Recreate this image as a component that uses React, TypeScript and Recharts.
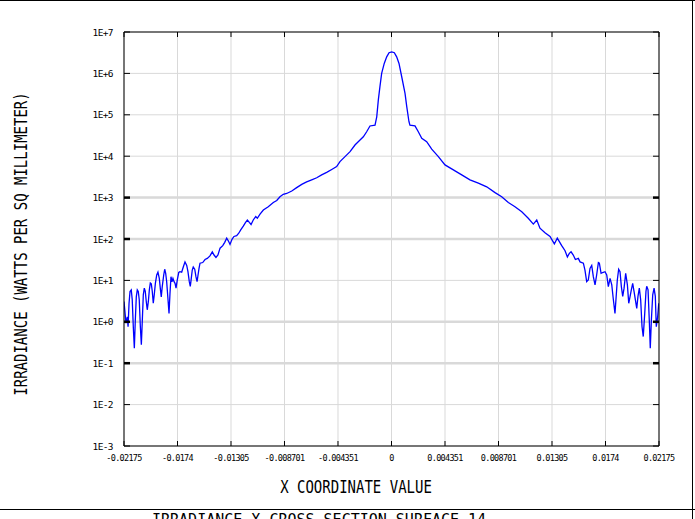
import { CartesianGrid, Line, LineChart, ReferenceLine, XAxis, YAxis } from "recharts";

// x position (data units) of each sample along the cross section
const xCoords = [
  -0.02175, -0.02159, -0.02148, -0.02142, -0.02134, -0.02126, -0.02116, -0.02108, -0.02099, -0.02091,
  -0.02083, -0.02075, -0.02067, -0.02059, -0.02051, -0.02042, -0.02034, -0.02026, -0.02018, -0.0201,
  -0.02002, -0.01994, -0.01986, -0.01977, -0.01969, -0.01961, -0.01953, -0.01945, -0.01937, -0.01929,
  -0.0192, -0.01909, -0.01899, -0.01888, -0.0188, -0.01872, -0.01864, -0.01852, -0.01844, -0.01836,
  -0.01828, -0.01817, -0.01809, -0.01801, -0.01793, -0.01785, -0.01777, -0.01768, -0.0176, -0.01752,
  -0.01742, -0.0173, -0.0172, -0.01706, -0.01693, -0.01679, -0.01665, -0.01655, -0.01644, -0.01636,
  -0.01628, -0.0162, -0.01612, -0.016, -0.0159, -0.01581, -0.01573, -0.01565, -0.01557, -0.01535,
  -0.01516, -0.01498, -0.01476, -0.01457, -0.01443, -0.01427, -0.01411, -0.01394, -0.01372, -0.01356,
  -0.0134, -0.01324, -0.01313, -0.01297, -0.01281, -0.01259, -0.01242, -0.01226, -0.01205, -0.01189,
  -0.01172, -0.01156, -0.01142, -0.01124, -0.01104, -0.01091, -0.01069, -0.01042, -0.01002, -0.00961,
  -0.00933, -0.00907, -0.0088, -0.00852, -0.00811, -0.00771, -0.0073, -0.0069, -0.00649, -0.00608,
  -0.00568, -0.00527, -0.00486, -0.00446, -0.00419, -0.00378, -0.00337, -0.00297, -0.00256, -0.00229,
  -0.00202, -0.00175, -0.00134, -0.0012, -0.00107, -0.00094, -0.0008, -0.00059, -0.00039, -0.0002,
  0.00002, 0.00023, 0.00042, 0.00061, 0.00083, 0.0011, 0.00124, 0.00142, 0.0015, 0.00191,
  0.00218, 0.00246, 0.00286, 0.00327, 0.00381, 0.00435, 0.00503, 0.00571, 0.00638, 0.00706,
  0.00774, 0.00842, 0.00896, 0.0095, 0.01004, 0.01059, 0.01112, 0.01153, 0.01181, 0.01207,
  0.01248, 0.01289, 0.01324, 0.01348, 0.01384, 0.01411, 0.0143, 0.01446, 0.0146, 0.01478,
  0.01495, 0.01519, 0.01533, 0.0156, 0.01573, 0.01587, 0.016, 0.01614, 0.01628, 0.01641,
  0.01655, 0.01668, 0.01682, 0.0169, 0.01704, 0.01717, 0.01736, 0.0175, 0.01763, 0.01777,
  0.01791, 0.01804, 0.01817, 0.01825, 0.01836, 0.01847, 0.01858, 0.01869, 0.0188, 0.01891,
  0.01904, 0.01918, 0.01929, 0.0194, 0.0195, 0.01961, 0.01972, 0.01983, 0.01994, 0.02004,
  0.02015, 0.02026, 0.02037, 0.02047, 0.02059, 0.02069, 0.02075, 0.02086, 0.02096, 0.02104,
  0.02113, 0.02124, 0.02135, 0.02145, 0.02153, 0.02164, 0.02173,
];

// irradiance (watts per sq millimeter) at each sample
const irradiance = [
  3.1, 0.93, 1.32, 0.76, 2.8, 5.4, 5.9, 3.4, 0.71, 0.23,
  1.1, 4.0, 5.9, 5.4, 3.4, 0.76, 0.28, 1.1, 4.5, 6.5,
  5.4, 3.1, 1.95, 3.1, 5.9, 8.7, 8.3, 5.4, 2.8, 4.5,
  8.5, 13.5, 15.8, 11.2, 6.5, 4.0, 7.1, 13.5, 18.6, 14.8,
  9.3, 3.4, 1.6, 4.9, 12.3, 9.3, 11.2, 9.3, 8.5, 6.5,
  10.2, 15.5, 16.2, 15.8, 21, 28, 23, 16.2, 9.3, 7.2,
  11.2, 17.8, 21, 18.6, 12.3, 9.3, 13.5, 19.5, 26, 27,
  32, 34, 39, 49, 41, 36, 41, 60, 69, 83,
  105, 87, 74, 98, 115, 120, 138, 166, 204, 245,
  288, 251, 224, 288, 347, 316, 398, 501, 603, 759,
  851, 1047, 1202, 1259, 1445, 1738, 2089, 2399, 2692, 3020,
  3548, 4074, 4786, 5623, 7413, 9772, 12882, 18621, 24547, 29512,
  38905, 53703, 56234, 89125, 229087, 478630, 1000000, 1740000, 2510000, 3160000,
  3310000, 3160000, 2510000, 1740000, 830000, 330000, 158000, 68000, 56000, 54000,
  39000, 27000, 22400, 14800, 9772, 6166, 4677, 3548, 2692, 2239,
  1820, 1318, 1047, 759, 603, 457, 316, 229, 288, 182,
  141, 115, 76, 105, 69, 52, 37, 45, 49, 41,
  32, 34, 28, 26, 17.8, 9.3, 10.2, 19.5, 23, 12.3,
  7.8, 13.5, 27, 26, 14.8, 15.5, 16.2, 13.5, 7.1, 11.2,
  7.8, 3.4, 1.6, 3.4, 10.2, 18.6, 16.2, 7.1, 4.1, 6.5,
  14.8, 7.8, 2.8, 4.1, 5.9, 8.5, 5.4, 3.4, 2.1, 4.1,
  6.5, 3.4, 0.76, 0.44, 1.6, 5.4, 7.2, 5.9, 1.1, 0.23,
  1.1, 4.5, 6.5, 4.1, 0.76, 1.32, 2.8,
];

const xTicks = [
  -0.02175, -0.0174, -0.01305, -0.008701, -0.004351, 0, 0.004351, 0.008701, 0.01305, 0.0174, 0.02175,
];
const yTicks = [1e-3, 1e-2, 1e-1, 1e0, 1e1, 1e2, 1e3, 1e4, 1e5, 1e6, 1e7];
// these decades render with a heavier rule in the original plot
const heavyDecades = [1e-1, 1e0, 1e2, 1e3];

const data = xCoords.map((x, i) => ({ x, irr: irradiance[i] }));

const MONO = '"DejaVu Sans Mono", monospace';
const GRID = "#d9d9d9";

const decadeLabel = (v: number) => {
  const e = Math.round(Math.log10(v));
  return `1E${e < 0 ? "-" : "+"}${Math.abs(e)}`;
};

const isHeavy = (v: number) => heavyDecades.some((d) => Math.abs(d - v) / d < 1e-6);

function LeftTick(props: any) {
  const { x, y, payload } = props;
  return (
    <g>
      <line x1={x} x2={x + 6} y1={y} y2={y} stroke="#000" strokeWidth={isHeavy(payload.value) ? 2.5 : 1} />
      <text x={x - 11} y={y + 3.5} textAnchor="end" fontSize={9.5} letterSpacing={-0.6} fontFamily={MONO} fill="#000">
        {decadeLabel(payload.value)}
      </text>
    </g>
  );
}

function RightTick(props: any) {
  const { x, y, payload } = props;
  return <line x1={x - 6} x2={x} y1={y} y2={y} stroke="#000" strokeWidth={isHeavy(payload.value) ? 2.5 : 1} />;
}

function BottomTick(props: any) {
  const { x, y, payload } = props;
  return (
    <g>
      <line x1={x} x2={x} y1={y - 5} y2={y} stroke="#000" />
      <text x={x} y={y + 15} textAnchor="middle" fontSize={8.5} letterSpacing={-0.7} fontFamily={MONO} fill="#000">
        {String(payload.value)}
      </text>
    </g>
  );
}

function TopTick(props: any) {
  const { x, y } = props;
  return <line x1={x} x2={x} y1={y} y2={y + 5} stroke="#000" />;
}

export default function App() {
  return (
    <div
      style={{
        position: "absolute",
        left: 0,
        top: 0,
        width: 695,
        height: 519,
        overflow: "hidden",
        background: "#fff",
        fontFamily: MONO,
      }}
    >
      <LineChart width={695} height={519} data={data} margin={{ top: 22, right: 26, bottom: 43, left: 64 }}>
        <CartesianGrid xAxisId="bottom" yAxisId="left" stroke={GRID} verticalValues={xTicks} horizontalValues={yTicks} />
        {heavyDecades.map((v) => (
          <ReferenceLine key={v} xAxisId="bottom" yAxisId="left" y={v} stroke={GRID} strokeWidth={2.5} />
        ))}
        <XAxis
          xAxisId="bottom"
          dataKey="x"
          type="number"
          domain={[-0.02175, 0.02175]}
          ticks={xTicks}
          allowDataOverflow
          height={30}
          axisLine={{ stroke: "#000" }}
          tickLine={false}
          tickSize={0}
          tickMargin={0}
          tick={<BottomTick />}
          interval={0}
        />
        <XAxis
          xAxisId="top"
          orientation="top"
          dataKey="x"
          type="number"
          domain={[-0.02175, 0.02175]}
          ticks={xTicks}
          allowDataOverflow
          height={10}
          axisLine={{ stroke: "#000" }}
          tickLine={false}
          tickSize={0}
          tickMargin={0}
          tick={<TopTick />}
          interval={0}
        />
        <YAxis
          yAxisId="left"
          scale="log"
          domain={[1e-3, 1e7]}
          ticks={yTicks}
          allowDataOverflow
          width={60}
          axisLine={{ stroke: "#000" }}
          tickLine={false}
          tickSize={0}
          tickMargin={0}
          tick={<LeftTick />}
          interval={0}
        />
        <YAxis
          yAxisId="right"
          orientation="right"
          scale="log"
          domain={[1e-3, 1e7]}
          ticks={yTicks}
          allowDataOverflow
          width={10}
          axisLine={{ stroke: "#000" }}
          tickLine={false}
          tickSize={0}
          tickMargin={0}
          tick={<RightTick />}
          interval={0}
        />
        <Line
          xAxisId="bottom"
          yAxisId="left"
          type="linear"
          dataKey="irr"
          stroke="#0000ff"
          strokeWidth={1.3}
          dot={false}
          isAnimationActive={false}
        />
      </LineChart>

      {/* outer frame */}
      <div style={{ position: "absolute", left: 0, top: 0, width: 695, height: 1, background: "#000" }} />
      <div style={{ position: "absolute", left: 692, top: 0, width: 1, height: 519, background: "#000" }} />
      <div style={{ position: "absolute", left: 0, top: 509, width: 695, height: 1, background: "#000" }} />

      <div
        style={{
          position: "absolute",
          left: 256,
          top: 480,
          width: 200,
          textAlign: "center",
          fontSize: 14,
          lineHeight: 1,
          whiteSpace: "nowrap",
          transform: "scaleY(1.2)",
        }}
      >
        X COORDINATE VALUE
      </div>
      <div
        style={{
          position: "absolute",
          left: 21 - 170,
          top: 243.5 - 7,
          width: 340,
          textAlign: "center",
          fontSize: 14,
          lineHeight: 1,
          whiteSpace: "nowrap",
          transform: "rotate(-90deg) scaleY(1.2)",
        }}
      >
        IRRADIANCE (WATTS PER SQ MILLIMETER)
      </div>
      <div
        style={{
          position: "absolute",
          left: 152,
          top: 513,
          fontSize: 15,
          lineHeight: 1,
          whiteSpace: "nowrap",
        }}
      >
        IRRADIANCE X CROSS SECTION SURFACE 14
      </div>
    </div>
  );
}
